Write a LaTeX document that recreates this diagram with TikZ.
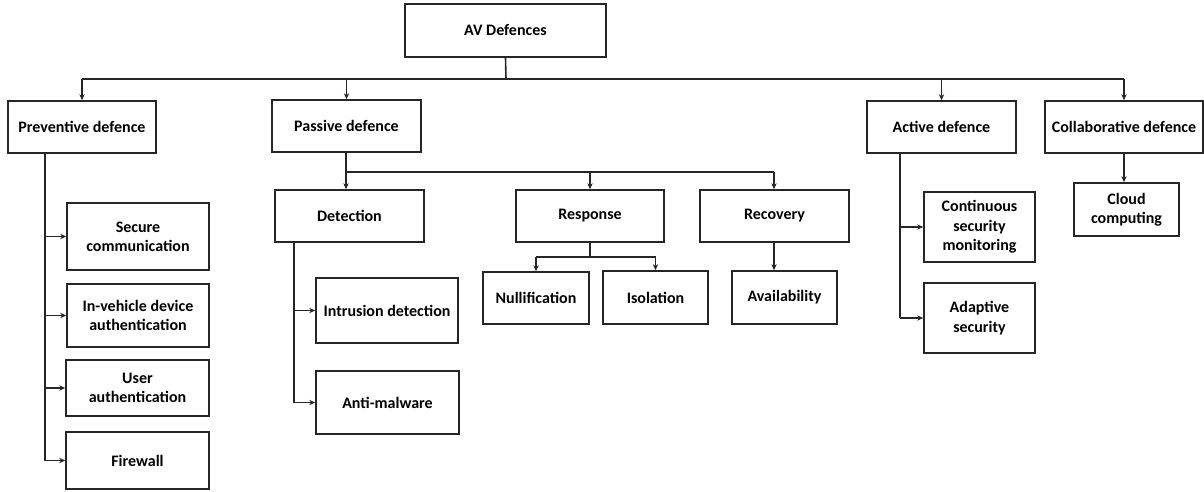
\documentclass[tikz,border=0pt]{standalone}
\usepackage{fontspec}
\setmainfont{Carlito}
\usetikzlibrary{arrows.meta}
% \bx[options]{name}{x1}{y1}{x2}{y2}{text}: a box given by its corners
\newcommand\bx[7][]{%
  \node[box,#1,minimum width={(#5-#3)*0.75pt},minimum height={(#6-#4)*0.75pt}]
    (#2) at ({(#3+#5)/2},{(#4+#6)/2}) {#7};}
\begin{document}
\begin{tikzpicture}[x=0.75pt,y=-0.75pt,
  box/.style={draw=black!85,line width=1.2pt,inner sep=0pt,align=center,
    font=\fontsize{12}{14.5}\selectfont\bfseries},
  link/.style={draw=black!85,line width=1.2pt},
  arr/.style={link,-{Stealth[length=4.5pt,width=4pt]}}]
\useasboundingbox (0,0) rectangle (1204,492);

% top level
\bx{av}{405}{4}{606}{57}{AV Defences}
\bx{pre}{8}{101}{156}{153}{Preventive defence}
\bx{pas}{272}{100}{421}{152}{Passive defence}
\bx{act}{867}{101}{1016}{153}{Active defence}
\bx{col}{1045}{101}{1203}{153}{Collaborative defence}

% preventive defence
\bx{sec}{67}{203}{209}{270}{Secure\\communication}
\bx{inv}{67}{284}{209}{347}{In-vehicle device\\authentication}
\bx{usr}{66}{360}{209}{416}{User\\authentication}
\bx{fir}{66}{432}{209}{489}{Firewall}

% passive defence
\bx{det}{275}{190}{424}{242}{Detection}
\bx{res}{516}{190}{664}{242}{Response}
\bx{rec}{700}{190}{849}{242}{Recovery}
\bx{ids}{316}{278}{458}{343}{Intrusion detection}
\bx{mal}{316}{371}{459}{434}{Anti-malware}
\bx{nul}{483}{272}{589}{324}{Nullification}
\bx{iso}{603}{271}{708}{324}{Isolation}
\bx{ava}{732}{271}{837}{324}{Availability}

% active and collaborative defence
\bx{con}{924}{192}{1035}{262}{Continuous\\security\\monitoring}
\bx{ada}{924}{283}{1035}{353}{Adaptive\\security}
\bx{cld}{1074}{183}{1179}{236}{Cloud\\computing}

% first level bus
\coordinate (top) at (506,79);
\draw[link] (av.south) -- (top);
\draw[link] (pre.north |- top) -- (col.north |- top);
\foreach \n in {pre,pas,act,col} \draw[arr] (\n.north |- top) -- (\n.north);

% preventive branch
\coordinate (ps) at (45,153);
\draw[link] (pre.south -| ps) -- (ps |- fir.west);
\foreach \n in {sec,inv,usr,fir} \draw[arr] (ps |- \n.west) -- (\n.west);

% passive branch
\coordinate (pb) at (346,172);
\coordinate (rx) at (774,0);
\draw[link] (pas.south -| pb) -- (pb) -- (rx |- pb);
\draw[arr] (pb) -- (pb |- det.north);
\draw[arr] (res.north |- pb) -- (res.north);
\draw[arr] (rx |- pb) -- (rx |- rec.north);

% detection
\coordinate (ds) at (294,0);
\draw[link] (ds |- det.south) -- (ds |- mal.west);
\draw[arr] (ds |- ids.west) -- (ids.west);
\draw[arr] (ds |- mal.west) -- (mal.west);

% response
\coordinate (rb) at (590,257);
\draw[link] (res.south) -- (rb);
\draw[link] (nul.north |- rb) -- (iso.north |- rb);
\draw[arr] (nul.north |- rb) -- (nul.north);
\draw[arr] (iso.north |- rb) -- (iso.north);

% recovery
\draw[arr] (rx |- rec.south) -- (rx |- ava.north);

% active branch
\coordinate (as) at (900,0);
\draw[link] (as |- act.south) -- (as |- ada.west);
\draw[arr] (as |- con.west) -- (con.west);
\draw[arr] (as |- ada.west) -- (ada.west);

% collaborative branch
\draw[arr] (col.south) -- (col.south |- cld.north);
\end{tikzpicture}
\end{document}
